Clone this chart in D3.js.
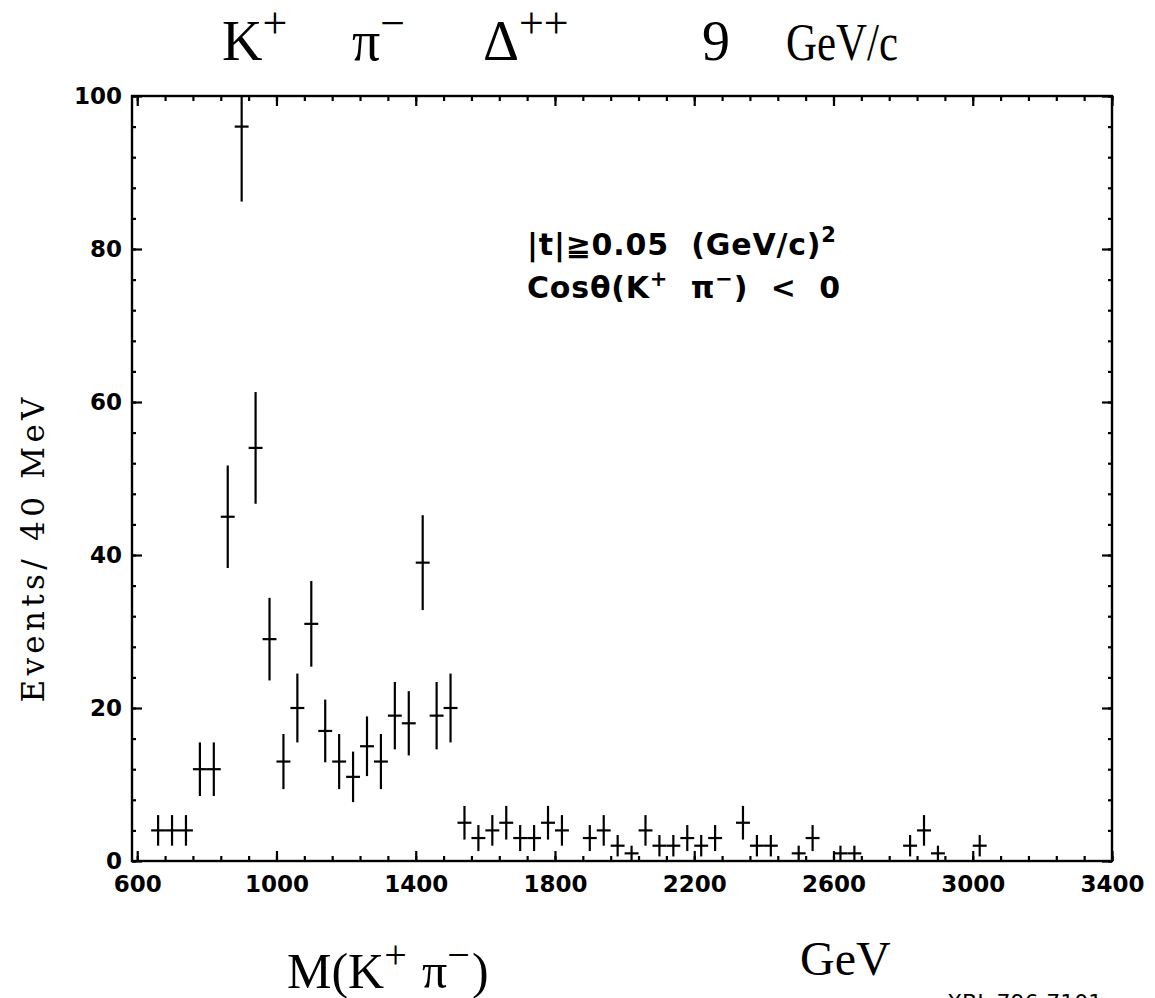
<!DOCTYPE html>
<html><head><meta charset="utf-8">
<script src="https://cdn.jsdelivr.net/npm/d3@7"></script>
<style>
html,body{margin:0;padding:0;background:#fff;}
svg{display:block;}
text{white-space:pre;}
</style></head>
<body>
<svg id="c" width="1155" height="998"></svg>
<script>
// ---- data ----
const masses = [660,700,740,780,820,860,900,940,980,1020,1060,1100,1140,1180,1220,1260,1300,1340,1380,1420,1460,1500,1540,1580,1620,1660,1700,1740,1780,1820,1900,1940,1980,2020,2060,2100,2140,2180,2220,2260,2340,2380,2420,2500,2540,2620,2660,2820,2860,2900,3020];
const counts = [4,4,4,12,12,45,96,54,29,13,20,31,17,13,11,15,13,19,18,39,19,20,5,3,4,5,3,3,5,4,3,4,2,1,4,2,2,3,2,3,5,2,2,1,3,1,1,2,4,1,2];
const errors = [2,2,2,3.5,3.5,6.7,9.8,7.3,5.4,3.6,4.5,5.6,4.1,3.6,3.3,3.9,3.6,4.4,4.2,6.2,4.4,4.5,2.2,1.7,2,2.2,1.7,1.7,2.2,2,1.7,2,1.4,1,2,1.4,1.4,1.7,1.4,1.7,2.2,1.4,1.4,1,1.7,1,1,1.4,2,1,1.4];
const binHalfWidth = 20;
const xMajorTicks = [600,1000,1400,1800,2200,2600,3000,3400];
const yMajorTicks = [0,20,40,60,80,100];
const xDomain = [585,3400];
const yDomain = [0,100];

const svg = d3.select("#c");
const x = d3.scaleLinear().domain(xDomain).range([132,1112]);
const y = d3.scaleLinear().domain(yDomain).range([861,96]);

const xMinor = d3.range(600, 3401, 80);
const yMinor = d3.range(0, 101, 4);

// frame
svg.append("rect").attr("x",x(xDomain[0])).attr("y",y(100))
  .attr("width",x(3400)-x(xDomain[0])).attr("height",y(0)-y(100))
  .attr("fill","none").attr("stroke","#000").attr("stroke-width",2.4);

function styleAxis(g){
  g.select(".domain").remove();
  g.selectAll("line").attr("stroke","#000").attr("stroke-width",2.2);
}
const tickFont = g => g.selectAll("text").attr("font-family","DejaVu Sans").attr("font-weight","bold")
  .attr("font-size",23).attr("fill","#000");
// bottom axis
const gxb = svg.append("g").attr("transform",`translate(0,${y(0)})`);
gxb.append("g").call(d3.axisBottom(x).tickValues(xMinor).tickSize(-5).tickFormat("")).call(styleAxis);
gxb.append("g").call(d3.axisBottom(x).tickValues(xMajorTicks).tickSize(-10).tickPadding(15).tickFormat(d3.format("d")))
  .call(styleAxis).call(tickFont);
// top axis
const gxt = svg.append("g").attr("transform",`translate(0,${y(100)})`);
gxt.append("g").call(d3.axisTop(x).tickValues(xMinor).tickSize(-5).tickFormat("")).call(styleAxis);
gxt.append("g").call(d3.axisTop(x).tickValues(xMajorTicks).tickSize(-10).tickFormat("")).call(styleAxis);
// left axis
const gyl = svg.append("g").attr("transform",`translate(${x(xDomain[0])},0)`);
gyl.append("g").call(d3.axisLeft(y).tickValues(yMinor).tickSize(-4).tickFormat("")).call(styleAxis);
gyl.append("g").call(d3.axisLeft(y).tickValues(yMajorTicks).tickSize(-10).tickPadding(10).tickFormat(d3.format("d")))
  .call(styleAxis).call(tickFont);
// right axis
const gyr = svg.append("g").attr("transform",`translate(${x(3400)},0)`);
gyr.append("g").call(d3.axisRight(y).tickValues(yMinor).tickSize(-4).tickFormat("")).call(styleAxis);
gyr.append("g").call(d3.axisRight(y).tickValues(yMajorTicks).tickSize(-10).tickFormat("")).call(styleAxis);

// data points with error bars
const pts = masses.map((m,i)=>({m, n:counts[i], e:errors[i]}));
const gp = svg.append("g").attr("stroke","#000").attr("stroke-width",2.2).attr("fill","none");
gp.selectAll("line.v").data(pts).join("line").attr("class","v")
  .attr("x1",d=>x(d.m)).attr("x2",d=>x(d.m))
  .attr("y1",d=>y(Math.max(0,d.n-d.e))).attr("y2",d=>y(Math.min(100,d.n+d.e)));
gp.selectAll("line.h").data(pts).join("line").attr("class","h")
  .attr("x1",d=>x(d.m-binHalfWidth)).attr("x2",d=>x(d.m+binHalfWidth))
  .attr("y1",d=>y(d.n)).attr("y2",d=>y(d.n));

// helper: base text with superscript
const serif = "Liberation Serif";
function supText(xpos, ypos, size, base, sup, supSize, supRise){
  const t = svg.append("text").attr("font-family",serif).attr("font-size",size)
    .attr("x",xpos).attr("y",ypos).attr("fill","#000");
  t.append("tspan").text(base);
  if(sup) t.append("tspan").attr("font-size",supSize).attr("dy",-supRise).text(sup);
  return t;
}
// title
supText(222,60,56,"K","+",44,22);
supText(352,60,56,"π","−",44,22);
supText(483,60,56,"Δ","++",44,22);
supText(702,60,56,"9");
svg.append("text").attr("font-family",serif).attr("font-size",52).attr("x",786).attr("y",60)
  .attr("textLength",112).attr("lengthAdjust","spacingAndGlyphs").attr("fill","#000").text("GeV/c");

// x label
supText(287,988,50,"M(K","+",40,20);
supText(422,988,50,"π","−",40,20);
svg.append("text").attr("font-family",serif).attr("font-size",50).attr("x",472).attr("y",988).attr("fill","#000").text(")");
svg.append("text").attr("font-family",serif).attr("font-size",48).attr("x",800).attr("y",975).attr("fill","#000").text("GeV");

// y label
svg.append("text").attr("font-family","DejaVu Serif").attr("font-size",31)
  .attr("transform",`translate(44,550) rotate(-90)`)
  .attr("text-anchor","middle").attr("textLength",305).attr("lengthAdjust","spacing")
  .attr("fill","#000").text("Events/ 40 MeV");

// annotations
const annFont = t => t.attr("font-family","DejaVu Sans").attr("font-weight","bold").attr("font-size",30)
  .attr("letter-spacing",0.8).attr("fill","#000");
const ann1 = svg.append("text").attr("x",527).attr("y",255).call(annFont);
ann1.append("tspan").text("|t|≧0.05  (GeV/c)");
ann1.append("tspan").attr("dy",-13).attr("font-size",21).text("2");
const ann2 = svg.append("text").attr("x",527).attr("y",298).call(annFont);
ann2.append("tspan").text("Cosθ(K");
ann2.append("tspan").attr("dy",-12).attr("font-size",21).text("+");
ann2.append("tspan").attr("dy",12).text("  π");
ann2.append("tspan").attr("dy",-12).attr("font-size",21).text("−");
ann2.append("tspan").attr("dy",12).text(")  <  0");

// catalogue number at bottom edge (cut off in the reference too)
svg.append("text").attr("font-family","DejaVu Sans").attr("font-size",22).attr("x",947).attr("y",1010).attr("fill","#000").text("XBL 796-7101");
</script>
</body></html>
